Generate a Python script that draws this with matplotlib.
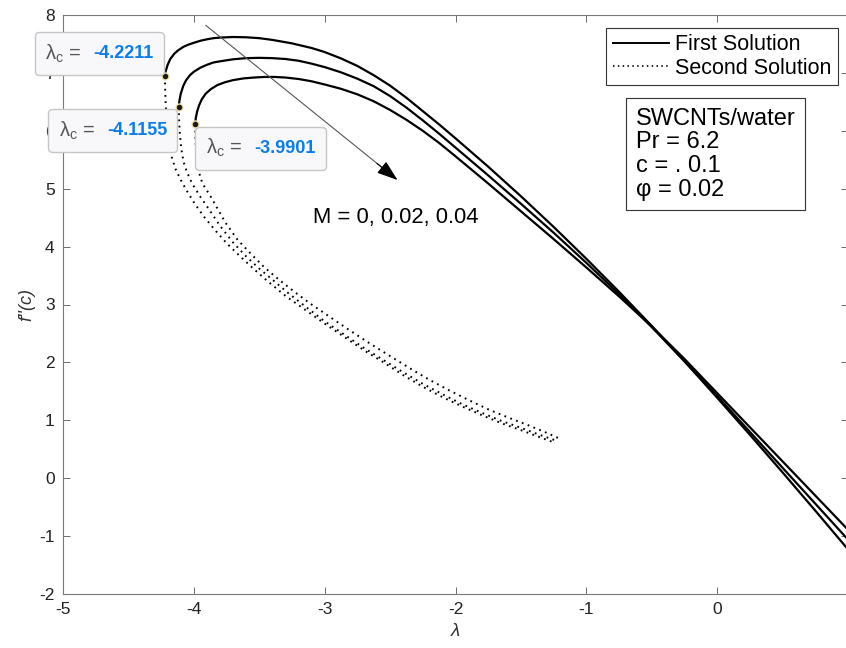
import numpy as np
import matplotlib
matplotlib.use("Agg")
import matplotlib.pyplot as plt
from matplotlib.offsetbox import TextArea, HPacker, AnnotationBbox

plt.rcParams['font.family'] = ['Liberation Sans', 'DejaVu Sans']
plt.rcParams['mathtext.fontset'] = 'custom'
plt.rcParams['mathtext.rm'] = 'Liberation Sans'
plt.rcParams['mathtext.it'] = 'Liberation Sans:italic'
plt.rcParams['axes.unicode_minus'] = False

# first solution branches (M = 0, 0.02, 0.04)
c1_x = [-4.2211, -4.215, -4.20, -4.18, -4.15, -4.12, -4.08, -4.04, -4.00, -3.95, -3.90, -3.85, -3.80, -3.70,
        -3.60, -3.50, -3.40, -3.25, -3.10, -3.00, -2.875, -2.75, -2.625, -2.50, -2.375, -2.25, -2.125, -2.00,
        -1.75, -1.50, -1.25, -1.00, -0.75, -0.50, -0.25, 0.00, 0.25, 0.50, 0.75, 1.00]
c1_y = [6.94, 7.03, 7.14, 7.24, 7.33, 7.39, 7.45, 7.49, 7.52, 7.555, 7.58, 7.60, 7.61, 7.62,
        7.615, 7.60, 7.57, 7.51, 7.43, 7.36, 7.25, 7.12, 6.96, 6.78, 6.57, 6.34, 6.11, 5.87,
        5.38, 4.87, 4.34, 3.79, 3.22, 2.63, 2.02, 1.39, 0.75, 0.10, -0.56, -1.23]

c2_x = [-4.1155, -4.11, -4.10, -4.08, -4.06, -4.03, -4.00, -3.95, -3.90, -3.85, -3.80, -3.70, -3.60, -3.50,
        -3.40, -3.30, -3.20, -3.10, -3.00, -2.875, -2.75, -2.625, -2.50, -2.375, -2.25, -2.125, -2.00,
        -1.75, -1.50, -1.25, -1.00, -0.75, -0.50, -0.25, 0.00, 0.25, 0.50, 0.75, 1.00]
c2_y = [6.41, 6.52, 6.64, 6.78, 6.87, 6.96, 7.02, 7.09, 7.14, 7.18, 7.20, 7.235, 7.255, 7.26,
        7.255, 7.24, 7.21, 7.16, 7.10, 7.01, 6.90, 6.77, 6.60, 6.40, 6.18, 5.95, 5.71,
        5.23, 4.74, 4.24, 3.72, 3.18, 2.61, 2.02, 1.42, 0.80, 0.18, -0.44, -1.06]

c3_x = [-3.9901, -3.985, -3.975, -3.96, -3.94, -3.91, -3.87, -3.82, -3.76, -3.70, -3.62, -3.54, -3.46,
        -3.38, -3.30, -3.20, -3.10, -3.00, -2.875, -2.75, -2.625, -2.50, -2.375, -2.25, -2.125, -2.00,
        -1.75, -1.50, -1.25, -1.00, -0.75, -0.50, -0.25, 0.00, 0.25, 0.50, 0.75, 1.00]
c3_y = [6.11, 6.22, 6.33, 6.44, 6.54, 6.64, 6.72, 6.79, 6.84, 6.875, 6.905, 6.92, 6.93,
        6.93, 6.92, 6.895, 6.855, 6.80, 6.725, 6.63, 6.51, 6.36, 6.19, 6.00, 5.79, 5.56,
        5.09, 4.61, 4.13, 3.64, 3.14, 2.62, 2.06, 1.47, 0.88, 0.29, -0.30, -0.89]

# second solution branches
d1_x = [-4.2211, -4.219, -4.215, -4.208, -4.198, -4.185, -4.168, -4.14, -4.10, -4.05, -3.99, -3.92, -3.84,
        -3.75, -3.65, -3.55, -3.44, -3.30, -3.15, -3.00, -2.85, -2.70, -2.55, -2.40, -2.25, -2.10, -1.95,
        -1.80, -1.65, -1.50, -1.37, -1.25]
d1_y = [6.94, 6.70, 6.45, 6.20, 5.96, 5.74, 5.54, 5.34, 5.15, 4.95, 4.73, 4.51, 4.29,
        4.06, 3.84, 3.63, 3.41, 3.15, 2.91, 2.67, 2.44, 2.21, 2.00, 1.78, 1.58, 1.40, 1.24,
        1.09, 0.95, 0.83, 0.72, 0.62]

d2_x = [-4.1155, -4.113, -4.108, -4.10, -4.09, -4.075, -4.055, -4.03, -4.00, -3.95, -3.88, -3.80, -3.70,
        -3.60, -3.50, -3.40, -3.28, -3.15, -3.00, -2.85, -2.70, -2.55, -2.40, -2.25, -2.10, -1.95, -1.80,
        -1.65, -1.50, -1.37, -1.22]
d2_y = [6.41, 6.20, 5.98, 5.78, 5.60, 5.44, 5.30, 5.17, 5.04, 4.86, 4.63, 4.36, 4.07,
        3.83, 3.62, 3.43, 3.20, 2.97, 2.71, 2.48, 2.25, 2.04, 1.83, 1.63, 1.45, 1.28, 1.13,
        0.99, 0.87, 0.76, 0.64]

d3_x = [-3.9901, -3.988, -3.984, -3.977, -3.967, -3.953, -3.935, -3.91, -3.88, -3.82, -3.76, -3.67, -3.57,
        -3.46, -3.35, -3.22, -3.10, -2.95, -2.80, -2.65, -2.50, -2.35, -2.20, -2.05, -1.90, -1.75, -1.60,
        -1.45, -1.32, -1.19]
d3_y = [6.11, 5.90, 5.70, 5.52, 5.36, 5.22, 5.10, 5.00, 4.90, 4.66, 4.42, 4.13, 3.89,
        3.64, 3.43, 3.20, 3.00, 2.77, 2.54, 2.32, 2.11, 1.90, 1.70, 1.52, 1.35, 1.19, 1.05,
        0.92, 0.80, 0.67]

crit_x = [-4.2211, -4.1155, -3.9901]
crit_y = [6.94, 6.41, 6.11]
crit_labels = ["-4.2211", "-4.1155", "-3.9901"]

fig = plt.figure(figsize=(8.46, 6.48), dpi=100)
ax = fig.add_axes([63 / 846, 54 / 648, 785 / 846, 579 / 648])

for x, y in [(c1_x, c1_y), (c2_x, c2_y), (c3_x, c3_y)]:
    ax.plot(x, y, color='black', lw=1.6, solid_capstyle='round', solid_joinstyle='round')
for x, y in [(d1_x, d1_y), (d2_x, d2_y), (d3_x, d3_y)]:
    ax.plot(x, y, color='black', lw=1.4, linestyle=(0, (0.9, 2.3)))

ax.plot(crit_x, crit_y, 'o', ms=5, mfc='#1a1a1a', mec='#efe3a8', mew=1.0, zorder=5)

# legend (proxy lines)
h1, = ax.plot([], [], color='black', lw=1.4, label='First Solution')
h2, = ax.plot([], [], color='black', lw=1.2, linestyle=(0, (0.9, 2.0)), label='Second Solution')
leg = ax.legend(handles=[h1, h2], loc='upper right', bbox_to_anchor=(0.987, 0.9775), borderaxespad=0,
                fontsize=15.5, fancybox=False, edgecolor='#333333', framealpha=1,
                borderpad=0.3, labelspacing=0.1, handlelength=2.6, handletextpad=0.3)
leg.get_frame().set_linewidth(0.8)

ax.text(0.7295, 0.840, "SWCNTs/water\nPr = 6.2\nc = . 0.1\nφ = 0.02", transform=ax.transAxes,
        ha='left', va='top', fontsize=17, linespacing=1.1,
        bbox=dict(boxstyle='square,pad=0.4', fc='white', ec='#333333', lw=0.8))

# arrow for increasing M
ax.plot([-3.908, -2.50], [7.82, 5.255], color='#555555', lw=0.8)
ax.annotate('', xy=(-2.443, 5.15), xytext=(-2.60, 5.436),
            arrowprops=dict(arrowstyle='-|>,head_length=1.3,head_width=0.45', color='black', lw=0.8,
                            shrinkA=0, shrinkB=0))
ax.text(-3.09, 4.41, "M = 0, 0.02, 0.04", fontsize=15.8, ha='left', va='baseline')

# data tips at the critical points
offsets = [(-8.4, 8.4), (-8.4, -9.1), (7.7, -9.1)]
aligns = [(1, 0), (1, 1), (0, 1)]
for cx, cy, lab, off, al in zip(crit_x, crit_y, crit_labels, offsets, aligns):
    t1 = TextArea("λ$_{\\rm c}$ =", textprops=dict(color='#555555', fontsize=14.5))
    t2 = TextArea(lab, textprops=dict(color='#0a7cf0', fontsize=13, fontweight='bold'))
    pack = HPacker(children=[t1, t2], align='center', pad=0, sep=8.5)
    ab = AnnotationBbox(pack, (cx, cy), xybox=off, xycoords='data', boxcoords='offset points',
                        box_alignment=al, fontsize=10,
                        bboxprops=dict(boxstyle='round,pad=0.75,rounding_size=0.3',
                                       fc='#f8f8fb', ec='#c6c6c6', lw=1.0))
    ab.set_zorder(6)
    ax.add_artist(ab)

ax.set_xlim(-5, 1)
ax.set_ylim(-2, 8)
ax.set_xticks(np.arange(-5, 2, 1))
ax.set_xticklabels(["-5", "-4", "-3", "-2", "-1", "0", ""])
ax.set_yticks(np.arange(-2, 9, 1))
ax.tick_params(direction='in', top=True, right=True, length=5, width=0.6, color='#555555',
               labelsize=12.5, labelcolor='#222222', pad=6)
for s in ax.spines.values():
    s.set_color('#7a7a7a')
    s.set_linewidth(0.8)
ax.set_xlabel("λ", fontsize=13.5, style='italic', color='#333333')
ax.set_ylabel("f''(c)", fontsize=13, style='italic', color='#333333')
ax.xaxis.set_label_coords(0.5, -0.05)
ax.yaxis.set_label_coords(-0.035, 0.5)

fig.savefig("out.png", dpi=100)
